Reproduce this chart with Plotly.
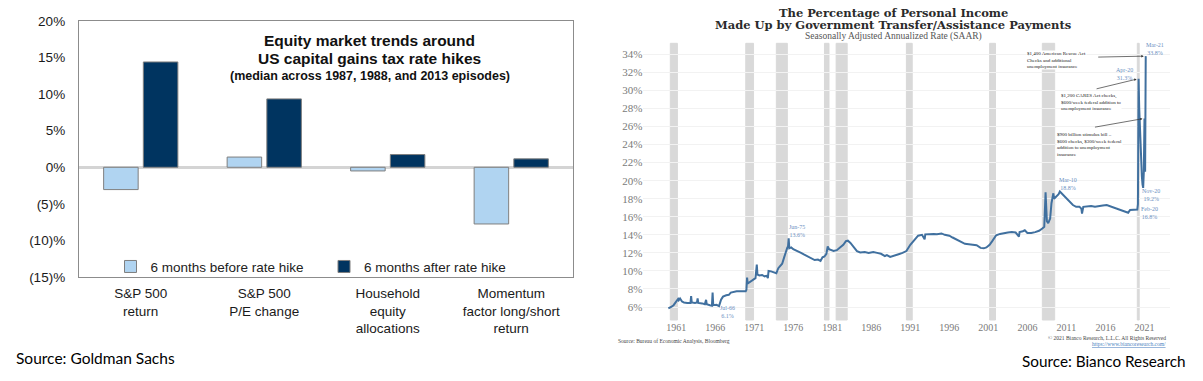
import plotly.graph_objects as go

W, H = 1203, 381

# ---------------- Left chart data (Goldman Sachs) ----------------
categories = ["S&P 500<br>return", "S&P 500<br>P/E change",
              "Household<br>equity<br>allocations", "Momentum<br>factor long/short<br>return"]
before_hike = [-3.05, 1.4, -0.5, -7.75]
after_hike = [14.4, 9.35, 1.74, 1.15]
series_names = ["6 months before rate hike", "6 months after rate hike"]
left_ytick_vals = [-15, -10, -5, 0, 5, 10, 15, 20]
left_ytick_text = ["(15)%", "(10)%", "(5)%", "0%", "5%", "10%", "15%", "20%"]
left_title = ["Equity market trends around", "US capital gains tax rate hikes",
              "(median across 1987, 1988, and 2013 episodes)"]

# ---------------- Right chart data (Bianco Research) ----------------
pi_dates = [
    "1960-01", "1960-03", "1960-06", "1960-09", "1960-12", "1961-02", "1961-04", "1961-05", "1961-07", "1961-10",
    "1962-01", "1962-06", "1962-11", "1962-12", "1963-01", "1963-06", "1963-09", "1963-10", "1963-11", "1964-05",
    "1964-09", "1964-11", "1964-12", "1965-05", "1965-08", "1965-09", "1965-10", "1966-03", "1966-07", "1966-10",
    "1967-01", "1967-06", "1967-10", "1968-01", "1968-06", "1968-10", "1969-03", "1969-09", "1969-12", "1970-01",
    "1970-02", "1970-03", "1970-07", "1970-11", "1971-03", "1971-05", "1971-06", "1971-09", "1972-01", "1972-05",
    "1972-08", "1972-10", "1972-11", "1973-03", "1973-08", "1973-11", "1974-02", "1974-05", "1974-08", "1974-11",
    "1975-02", "1975-04", "1975-05", "1975-06", "1975-07", "1975-10", "1976-01", "1976-06", "1977-01", "1977-06",
    "1978-01", "1978-06", "1978-10", "1979-03", "1979-07", "1979-10", "1980-01", "1980-04", "1980-06", "1980-08",
    "1980-11", "1981-03", "1981-08", "1982-01", "1982-06", "1982-10", "1983-01", "1983-05", "1983-10", "1984-03",
    "1984-08", "1985-03", "1985-09", "1986-04", "1986-10", "1987-04", "1987-10", "1988-01", "1988-06", "1989-01",
    "1989-07", "1990-01", "1990-07", "1991-01", "1991-07", "1992-01", "1992-07", "1992-11", "1992-12", "1993-06",
    "1994-01", "1994-06", "1995-01", "1995-06", "1996-01", "1996-06", "1997-01", "1997-07", "1998-01", "1998-07",
    "1999-01", "1999-07", "2000-01", "2000-06", "2000-10", "2001-03", "2001-07", "2002-01", "2002-07", "2003-01",
    "2003-07", "2004-01", "2004-07", "2004-12", "2005-01", "2005-06", "2005-09", "2006-01", "2006-07", "2007-01",
    "2007-07", "2007-12", "2008-03", "2008-05", "2008-06", "2008-07", "2008-09", "2008-12", "2009-02", "2009-04",
    "2009-05", "2009-06", "2009-09", "2010-01", "2010-03", "2010-07", "2010-11", "2011-03", "2011-07", "2011-11",
    "2012-04", "2012-09", "2012-12", "2013-01", "2013-03", "2013-09", "2014-03", "2014-09", "2015-03", "2015-09",
    "2016-03", "2016-09", "2017-03", "2017-09", "2018-03", "2018-09", "2018-12", "2019-03", "2019-09", "2019-12",
    "2020-02", "2020-03", "2020-04", "2020-05", "2020-06", "2020-07", "2020-08", "2020-09", "2020-10", "2020-11",
    "2020-12", "2021-01", "2021-02", "2021-03",
]
pi_values = [
    5.85, 5.9, 6.05, 6.2, 6.5, 6.8, 6.9, 6.75, 6.95, 6.6,
    6.5, 6.45, 6.45, 7.2, 6.5, 6.45, 6.5, 6.95, 6.45, 6.4,
    6.3, 6.8, 6.3, 6.2, 6.15, 7.6, 6.2, 6.25, 6.1, 6.8,
    7.15, 7.3, 7.35, 7.6, 7.7, 7.75, 7.75, 7.8, 7.75, 7.9,
    9.25, 8.6, 8.8, 9.0, 9.2, 10.7, 9.6, 9.5, 9.55, 9.4,
    9.45, 9.2, 10.0, 9.95, 9.8, 9.75, 10.3, 10.6, 10.8, 11.5,
    12.3, 12.6, 12.7, 13.6, 12.5, 12.6, 12.4, 12.25, 12.0, 11.8,
    11.5, 11.35, 11.2, 11.25, 11.1, 11.5, 11.6, 11.9, 12.7, 12.4,
    12.3, 12.2, 12.3, 12.6, 12.9, 13.3, 13.35, 13.1, 12.6, 12.2,
    12.05, 12.1, 12.0, 12.1, 12.0, 11.9, 11.65, 11.75, 11.55, 11.75,
    11.85, 12.0, 12.2, 12.9, 13.4, 13.9, 14.0, 13.5, 14.05, 14.1,
    14.1, 14.05, 14.15, 14.0, 13.9, 13.7, 13.45, 13.2, 13.0, 12.95,
    12.9, 12.85, 12.55, 12.5, 12.6, 12.9, 13.3, 13.95, 14.1, 14.2,
    14.25, 14.3, 14.25, 13.8, 14.3, 14.4, 14.5, 14.2, 14.2, 14.3,
    14.45, 14.7, 14.9, 18.7, 16.8, 15.5, 15.3, 15.8, 17.5, 18.1,
    18.6, 18.0, 18.2, 18.5, 18.8, 18.5, 18.2, 17.8, 17.5, 17.3,
    17.1, 17.1, 16.9, 16.35, 17.1, 17.15, 17.2, 17.1, 17.2, 17.25,
    17.3, 17.15, 16.95, 16.8, 16.65, 16.55, 16.45, 16.75, 16.8, 16.85,
    16.8, 17.4, 31.3, 28.0, 25.5, 24.8, 22.5, 20.5, 19.6, 19.2,
    20.9, 26.9, 21.0, 33.8,
]
rec_start = ["1960-04-01", "1969-12-01", "1973-11-01", "1980-01-01", "1981-07-01",
             "1990-07-01", "2001-03-01", "2007-12-01", "2020-02-01"]
rec_end = ["1961-02-28", "1970-11-30", "1975-03-31", "1980-07-31", "1982-11-30",
           "1991-03-31", "2001-11-30", "2009-06-30", "2020-04-30"]
right_title = ["The Percentage of Personal Income",
               "Made Up by Government Transfer/Assistance Payments",
               "Seasonally Adjusted Annualized Rate (SAAR)"]
callout_dates = ["1966-07", "1975-06", "2010-03", "2020-04", "2021-03", "2020-11", "2020-02"]
event_notes = [
    ("2021-03", "$1,400 American Rescue Act<br>Checks and additional<br>unemployment insurance"),
    ("2020-04", "$1,200 CARES Act checks,<br>$600/week federal addition to<br>unemployment insurance"),
    ("2021-01", "$900 billion stimulus bill –<br>$600 checks, $300/week federal<br>addition to unemployment<br>insurance"),
]

MONTHS = ["Jan", "Feb", "Mar", "Apr", "May", "Jun", "Jul", "Aug", "Sep", "Oct", "Nov", "Dec"]


def px(x):
    return x / W


def py(y):
    return 1 - y / H


SANS = "Liberation Sans, Arial, sans-serif"
SERIF = "Liberation Serif, Georgia, serif"
DSERIF = "DejaVu Serif, Georgia, serif"
CAL = "Lato, Calibri, sans-serif"
LINE_BLUE = "#40709f"
LABEL_BLUE = "#6b8fbf"

fig = go.Figure()

# ---------- left: bar chart ----------
fig.add_trace(go.Bar(
    x=categories, y=before_hike, name=series_names[0],
    marker=dict(color="#b0d4f1", line=dict(color="#7f7f7f", width=1)),
    xaxis="x", yaxis="y", legend="legend",
))
fig.add_trace(go.Bar(
    x=categories, y=after_hike, name=series_names[1],
    marker=dict(color="#003460", line=dict(color="#7f7f7f", width=1)),
    xaxis="x", yaxis="y", legend="legend2",
))

# ---------- right: line chart ----------
fig.add_trace(go.Scatter(
    x=[d + "-01" for d in pi_dates], y=pi_values, mode="lines",
    line=dict(color=LINE_BLUE, width=2), xaxis="x2", yaxis="y2", showlegend=False,
))

shapes = []
for s, e in zip(rec_start, rec_end):
    shapes.append(dict(type="rect", xref="x2", yref="y2 domain", x0=s, x1=e, y0=0, y1=1,
                       fillcolor="#d9d9d9", line=dict(width=1, color="#d9d9d9"), layer="below"))

annotations = []
# left chart title
for txt, yy, sz in zip(left_title, [40.7, 59, 75.7], [15.5, 15.5, 12.5]):
    annotations.append(dict(text="<b>%s</b>" % txt, x=px(369.5), y=py(yy), xref="paper", yref="paper",
                            showarrow=False, xanchor="center", yanchor="middle",
                            font=dict(family=SANS, size=sz, color="#111111")))
# right chart title
for txt, yy, sz, bold, fam, col in zip(right_title, [13.3, 25.3, 36], [11.5, 11.5, 9.5], [True, True, False],
                                       [DSERIF, DSERIF, SERIF], ["#2b2b2b", "#2b2b2b", "#555555"]):
    annotations.append(dict(text=("<b>%s</b>" % txt) if bold else txt, x=px(893), y=py(yy),
                            xref="paper", yref="paper", showarrow=False, xanchor="center", yanchor="middle",
                            font=dict(family=fam, size=sz, color=col)))

# callout labels on the line
shifts = {"1966-07": (8, -6), "1975-06": (8, 7), "2010-03": (8, 7.5), "2020-04": (-14, 4.6),
          "2021-03": (9, 7), "2020-11": (8, -7.5), "2020-02": (12.5, -3.5)}
for d in callout_dates:
    v = pi_values[pi_dates.index(d)]
    yr, mo = d.split("-")
    lab = "%s-%s<br>%.1f%%" % (MONTHS[int(mo) - 1], yr[2:], v)
    xs, ys = shifts[d]
    annotations.append(dict(text=lab, x=d + "-01", y=v, xref="x2", yref="y2", showarrow=False,
                            xshift=xs, yshift=ys, xanchor="center", yanchor="middle",
                            font=dict(family=SERIF, size=6, color=LABEL_BLUE)))

# event notes with arrows
note_pos = [(1026, 50), (1060, 92), (1056, 131)]
arrow_off = [(-49, 1), (-43.5, 10.5), (-51, 9)]
for (d, txt), (lx, ty), (axo, ayo) in zip(event_notes, note_pos, arrow_off):
    v = pi_values[pi_dates.index(d)]
    annotations.append(dict(text=txt, x=px(lx), y=py(ty), xref="paper", yref="paper", showarrow=False,
                            xanchor="left", yanchor="top", align="left", bgcolor="white", borderpad=0,
                            font=dict(family=SERIF, size=5, color="#222222")))
    annotations.append(dict(text="", x=d + "-01", y=v, xref="x2", yref="y2", showarrow=True,
                            ax=axo, ay=ayo, arrowhead=2, arrowsize=0.7, arrowwidth=0.7,
                            arrowcolor="#333333", standoff=2))

# footers
annotations.append(dict(text="Source: Bureau of Economic Analysis, Bloomberg", x=px(616), y=py(341),
                        xref="paper", yref="paper", showarrow=False, xanchor="left", yanchor="middle",
                        font=dict(family=SERIF, size=5.5, color="#444444")))
annotations.append(dict(text="© 2021 Bianco Research, L.L.C. All Rights Reserved", x=px(1168), y=py(337.7),
                        xref="paper", yref="paper", showarrow=False, xanchor="right", yanchor="middle",
                        font=dict(family=SERIF, size=5.5, color="#444444")))
annotations.append(dict(text="<u>https://www.biancoresearch.com/</u>", x=px(1168), y=py(343.5),
                        xref="paper", yref="paper", showarrow=False, xanchor="right", yanchor="middle",
                        font=dict(family=SERIF, size=5.5, color="#4a7fc0")))
annotations.append(dict(text="Source: Goldman Sachs", x=px(14), y=py(357.7), xref="paper", yref="paper",
                        showarrow=False, xanchor="left", yanchor="middle",
                        font=dict(family=CAL, size=15.5, color="#000000")))
annotations.append(dict(text="Source: Bianco Research", x=px(1188), y=py(360.7), xref="paper", yref="paper",
                        showarrow=False, xanchor="right", yanchor="middle",
                        font=dict(family=CAL, size=15.3, color="#000000")))

fig.update_layout(
    width=W, height=H, autosize=False,
    margin=dict(l=0, r=0, t=0, b=0, pad=0),
    paper_bgcolor="white", plot_bgcolor="white",
    barmode="group", bargap=0.357, bargroupgap=0.13,
    xaxis=dict(domain=[px(79), px(573)], showline=True, mirror=True, linecolor="#8c8c8c", linewidth=1.3,
               ticks="outside", ticklen=4, tickcolor="rgba(0,0,0,0)", showgrid=False, automargin=False,
               tickfont=dict(family=SANS, size=13.5, color="#1a1a1a"), anchor="y", fixedrange=True),
    yaxis=dict(domain=[py(277), py(21)], range=[-15, 20], tickvals=left_ytick_vals, ticktext=left_ytick_text,
               showline=True, mirror=True, linecolor="#8c8c8c", linewidth=1.3, showgrid=False,
               zeroline=True, zerolinecolor="#d4d4d4", zerolinewidth=2.5, automargin=False,
               ticks="outside", ticklen=10, tickcolor="rgba(0,0,0,0)",
               tickfont=dict(family=SANS, size=13.5, color="#1a1a1a"), anchor="x"),
    xaxis2=dict(domain=[px(643.3), px(1170)], type="date", range=["1956-10-15", "2024-04-10"],
                tick0="1961-01-01", dtick="M60", tickformat="%Y", showgrid=False, showline=False,
                zeroline=False, ticks="", automargin=False,
                tickfont=dict(family=SERIF, size=10, color="#7a7a7a"), anchor="y2"),
    yaxis2=dict(domain=[py(320), py(43.3)], range=[4.56, 35.22], tick0=0, dtick=2, ticksuffix="%",
                showgrid=True, gridcolor="#f2f2f2", gridwidth=1, zeroline=False, showline=False, ticks="",
                automargin=False, tickfont=dict(family=SERIF, size=11, color="#7a7a7a"), anchor="x2"),
    legend=dict(x=px(110.5), y=py(266.7), xanchor="left", yanchor="middle", orientation="h",
                bgcolor="rgba(0,0,0,0)", borderwidth=0, font=dict(family=SANS, size=13.5, color="#222222")),
    legend2=dict(x=px(324), y=py(266.7), xanchor="left", yanchor="middle", orientation="h",
                 bgcolor="rgba(0,0,0,0)", borderwidth=0, font=dict(family=SANS, size=13.5, color="#222222")),
    shapes=shapes, annotations=annotations,
)

fig.write_html("out.html", config={"displayModeBar": False},
               post_script="document.body.style.margin='0';document.body.style.overflow='hidden';")
